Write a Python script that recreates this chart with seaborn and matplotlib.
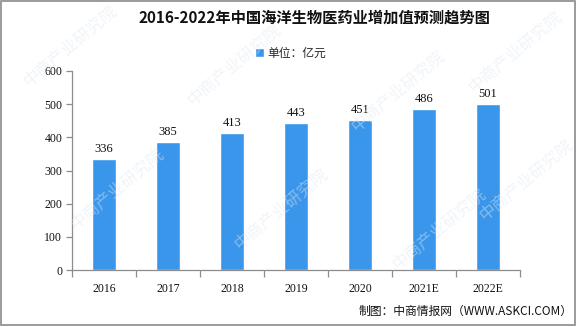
import matplotlib
matplotlib.use("Agg")
import matplotlib.pyplot as plt
import seaborn as sns
import pandas as pd
import numpy as np

years = ["2016", "2017", "2018", "2019", "2020", "2021E", "2022E"]
values = [336, 385, 413, 443, 451, 486, 501]
title = "2016-2022年中国海洋生物医药业增加值预测趋势图"
legend_label = "单位：亿元"
source = "制图：中商情报网（WWW.ASKCI.COM）"
watermark = "中商产业研究院"

sns.set_theme(style="white")
plt.rcParams["font.family"] = ["Noto Sans CJK SC", "DejaVu Sans"]

bar_color = "#3a96ea"
axis_color = "#8c8c8c"

df = pd.DataFrame({"year": years, "value": values})

fig = plt.figure(figsize=(5.85, 3.27), dpi=100)
ax = fig.add_axes([0.123, 0.174, 0.766, 0.609])

sns.barplot(data=df, x="year", y="value", color=bar_color, width=0.37,
            saturation=1, ax=ax, label=legend_label)

ax.set_ylim(0, 600)
ax.set_xlim(-0.5, len(years) - 0.5)
ax.set_yticks(range(0, 601, 100))
ax.set_xlabel("")
ax.set_ylabel("")

for s in ["top", "right"]:
    ax.spines[s].set_visible(False)
for s in ["left", "bottom"]:
    ax.spines[s].set_color(axis_color)
    ax.spines[s].set_linewidth(0.9)

ax.tick_params(axis="y", direction="out", length=4, width=0.9, color=axis_color,
               labelsize=8.5, labelcolor="#111111", pad=3, left=True)
ax.tick_params(axis="x", which="major", length=0, labelsize=8.5,
               labelcolor="#111111", pad=9)
ax.set_xticks(np.arange(-0.5, len(years), 1.0), minor=True)
ax.tick_params(axis="x", which="minor", direction="out", length=5, width=0.9,
               color=axis_color, bottom=True)
for lab in ax.get_xticklabels() + ax.get_yticklabels():
    lab.set_family(["Liberation Serif", "DejaVu Serif"])

for i, v in enumerate(values):
    ax.text(i, v + 12, str(v), ha="center", va="bottom", fontsize=9,
            color="#111111", family=["Liberation Serif", "DejaVu Serif"])

fig.text(0.537, 0.945, title, ha="center", va="center", fontsize=11,
         fontweight="bold", color="#111111")

leg = ax.legend(loc="center", bbox_to_anchor=(0.497, 0.838),
                bbox_transform=fig.transFigure, frameon=False, fontsize=8.5,
                handlelength=0.8, handleheight=0.8, handletextpad=0.3)

fig.text(0.978, 0.047, source, ha="right", va="center", fontsize=8.5,
         color="#111111")

# faint diagonal watermark
for (x, y) in [(0.12, 0.86), (0.40, 0.80), (0.68, 0.72), (0.88, 0.84),
               (0.20, 0.42), (0.48, 0.36), (0.75, 0.30), (0.90, 0.45)]:
    fig.text(x, y, watermark, rotation=40, ha="center", va="center",
             fontsize=12, color="#dfe8f2", alpha=0.45, zorder=0)

# figure frame
frame = plt.Rectangle((0.002, 0.006), 0.981, 0.99, transform=fig.transFigure,
                      fill=False, edgecolor="#8a8a8a", linewidth=1.2)
fig.patches.append(frame)

fig.savefig("out.png", dpi=100)
